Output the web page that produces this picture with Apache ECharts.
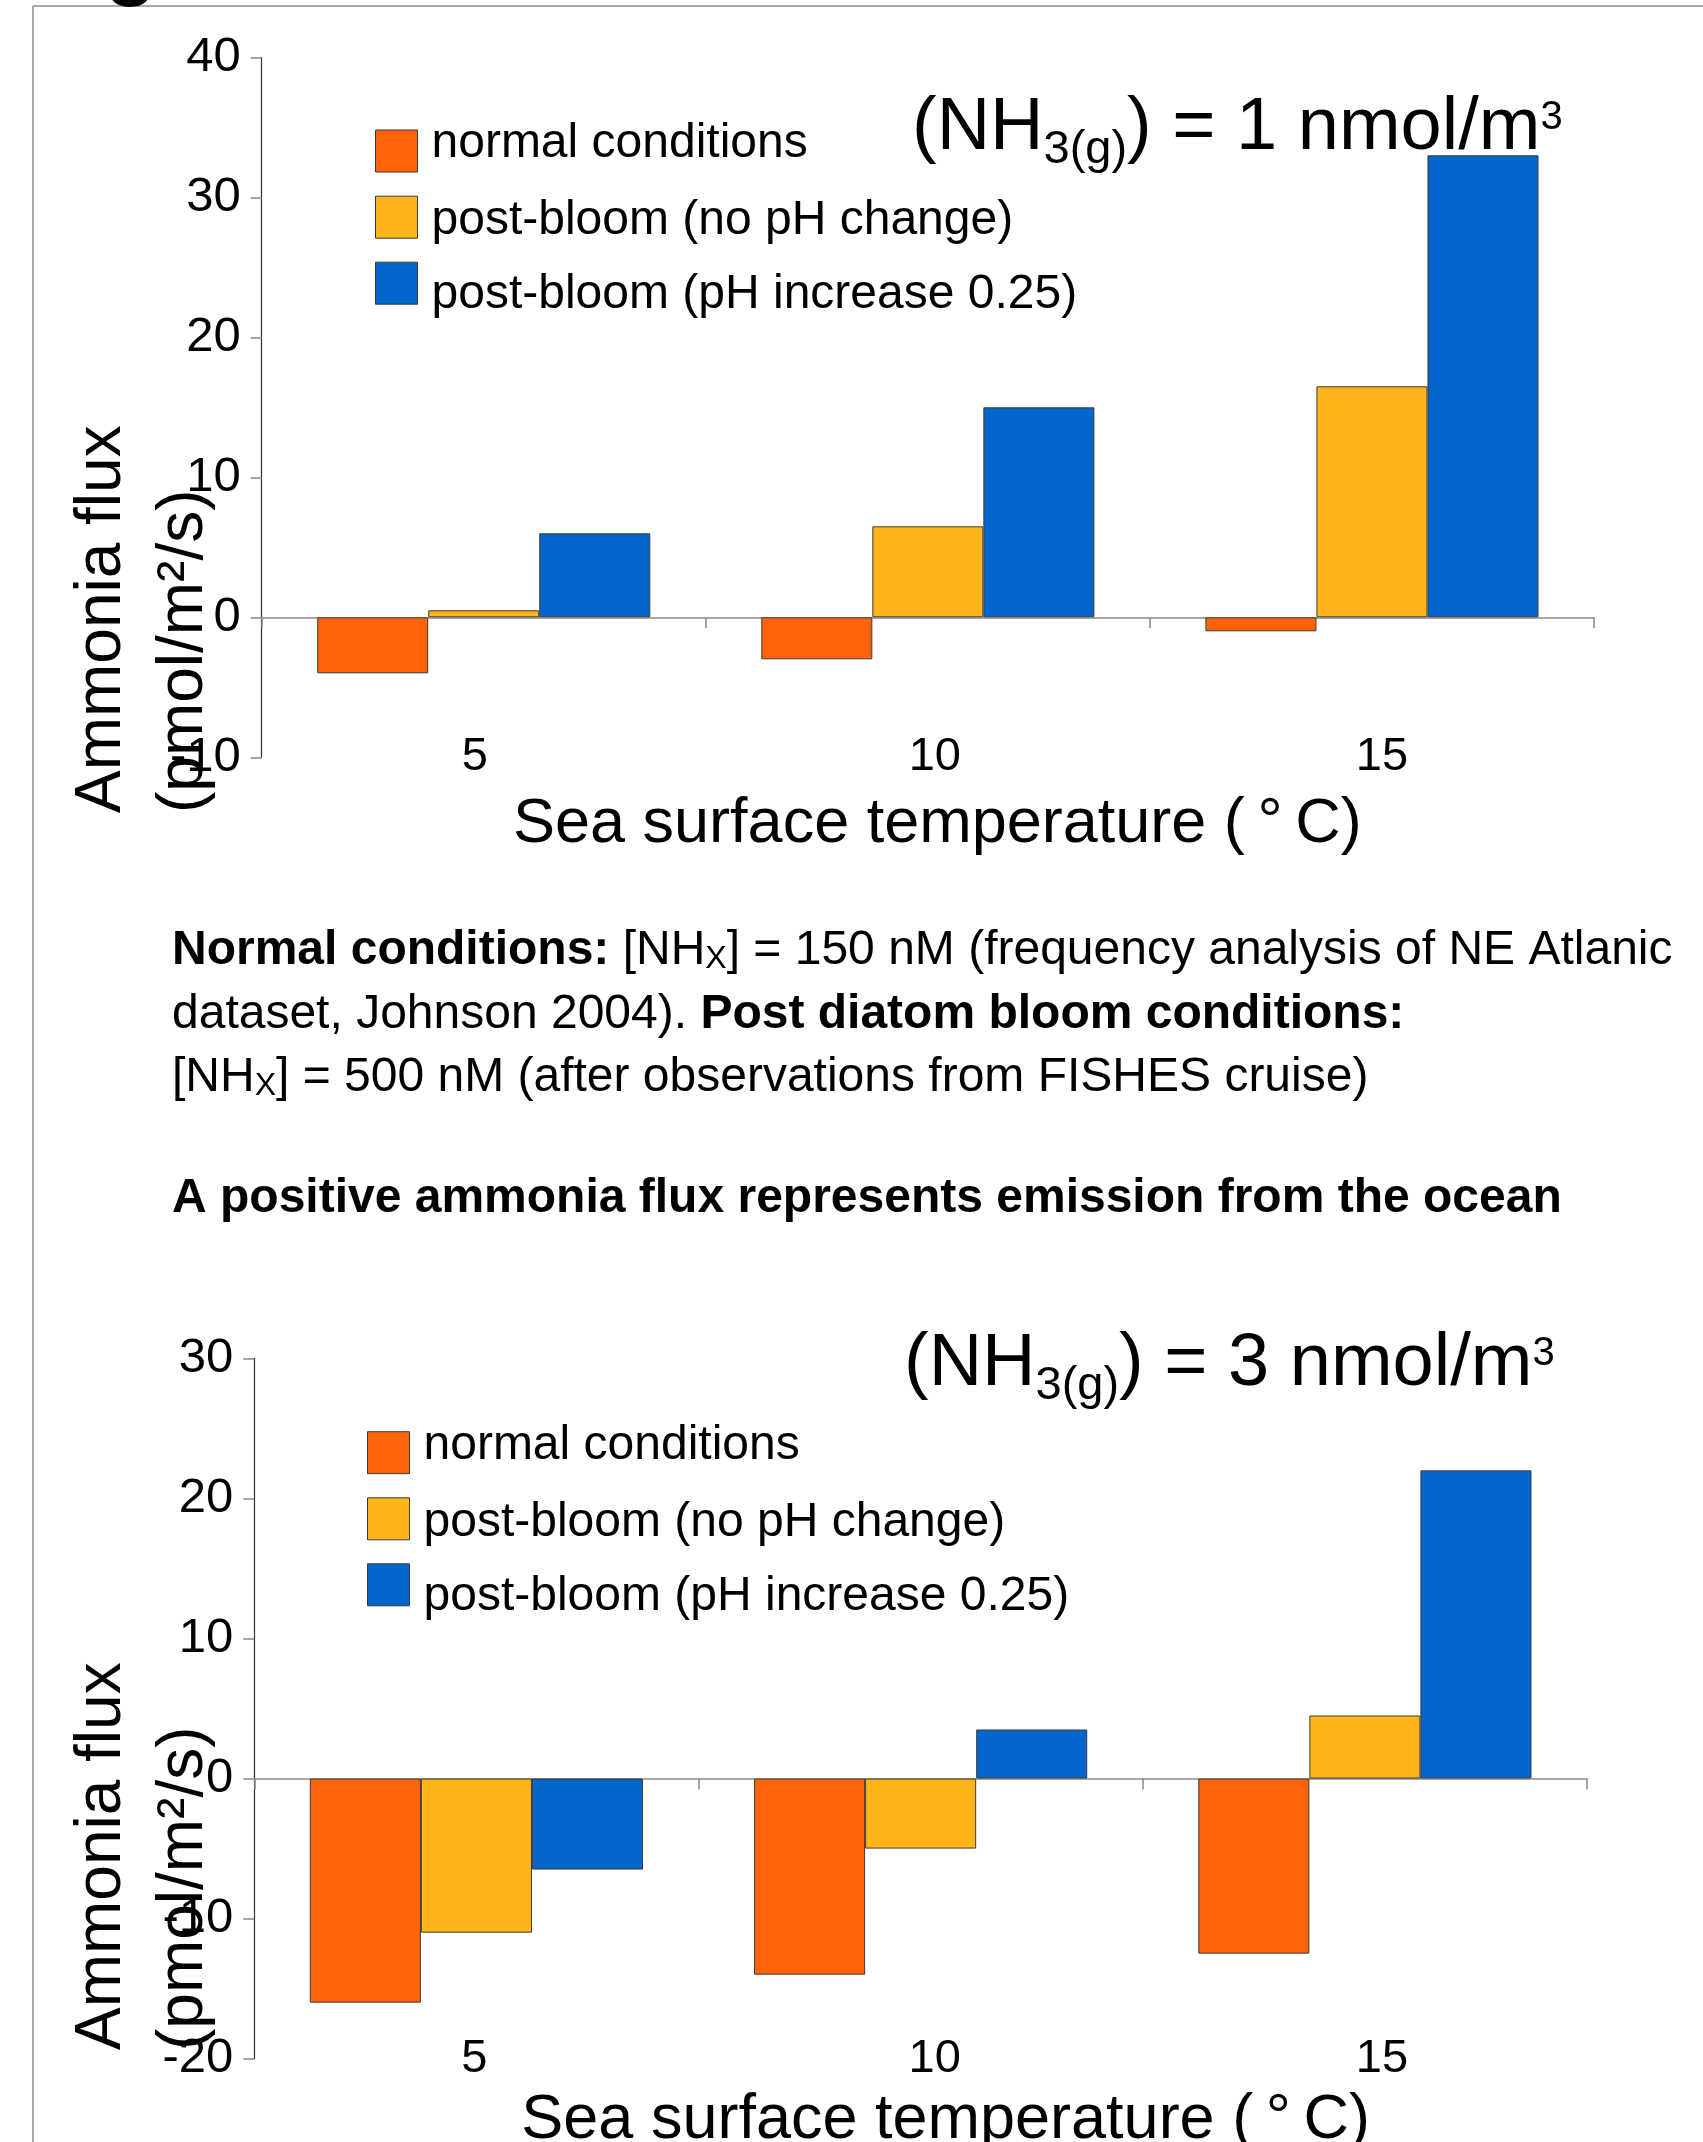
<!DOCTYPE html>
<html><head><meta charset="utf-8">
<script src="https://cdn.jsdelivr.net/npm/echarts@6/dist/echarts.min.js"></script>
<style>html,body{margin:0;padding:0;background:#fff}#c{width:1703px;height:2142px}</style>
</head><body><div id="c"></div>
<script>
// ---- data ----
const categories = ['5', '10', '15'];
const seriesNames = ['normal conditions', 'post-bloom (no pH change)', 'post-bloom (pH increase 0.25)'];
// panel 1: (NH3(g)) = 1 nmol/m3
const topNormal = [-4.0, -3.0, -1.0];
const topNoPH   = [0.5, 6.5, 16.5];
const topPH     = [6.0, 15.0, 33.0];
// panel 2: (NH3(g)) = 3 nmol/m3
const botNormal = [-16.0, -14.0, -12.5];
const botNoPH   = [-11.0, -5.0, 4.5];
const botPH     = [-6.5, 3.5, 22.0];
const topYTicks = [-10, 0, 10, 20, 30, 40];
const botYTicks = [-20, -10, 0, 10, 20, 30];

// ---- styles ----
const FONT = '"Liberation Sans", Arial, Helvetica, sans-serif';
const colors = ['#FF6309', '#FFB41A', '#0266CC'];
const BORDER = '#3a3a3a';
// horizontal nudges (px) of the category labels, as in the original figure
const topLabelShift = [-9, 7, 10];
const botLabelShift = [-2, 14, 17];

function yAxisFor(ticks, gridIndex) {
  return {
    type: 'value', gridIndex: gridIndex,
    min: ticks[0], max: ticks[ticks.length - 1], interval: ticks[1] - ticks[0],
    axisLine: { show: true, lineStyle: { color: '#333', width: 1.2 } },
    axisTick: { show: true, length: 11, lineStyle: { color: '#888', width: 1.5 } },
    axisLabel: { fontSize: 49, color: '#000', fontFamily: FONT, margin: 21 },
    splitLine: { show: false }
  };
}
function zeroXAxis(gridIndex) {
  return {
    type: 'category', gridIndex: gridIndex, data: categories, position: 'bottom',
    axisLine: { show: true, onZero: true, lineStyle: { color: '#8a8a8a', width: 1.5 } },
    axisTick: { show: true, length: 11, interval: 0, lineStyle: { color: '#888', width: 1.5 } },
    axisLabel: { show: false }
  };
}
function labelXAxis(gridIndex, padLeft, gap, shifts) {
  const rich = {};
  shifts.forEach(function (s, i) {
    rich['c' + i] = { fontSize: 47, color: '#000', fontFamily: FONT,
      padding: s >= 0 ? [0, 0, 0, 2 * s] : [0, -2 * s, 0, 0] };
  });
  return {
    type: 'category', gridIndex: gridIndex, data: categories, position: 'bottom',
    axisLine: { show: false, onZero: false },
    axisTick: { show: false },
    axisLabel: { show: true, fontSize: 47, color: '#000', fontFamily: FONT, margin: 0, verticalAlign: 'middle',
      formatter: function (v, i) { return '{c' + i + '|' + v + '}'; }, rich: rich },
    name: 'Sea surface temperature (\u2009°\u2009C)',
    nameLocation: 'middle', nameGap: gap,
    nameTextStyle: { fontSize: 63, color: '#000', fontFamily: FONT, padding: [0, 0, 0, padLeft] }
  };
}
function bars(values, idx, axisIdx) {
  return {
    type: 'bar', name: seriesNames[idx], data: values,
    xAxisIndex: axisIdx, yAxisIndex: axisIdx / 2,
    barGap: '0%', barCategoryGap: '25%',
    itemStyle: { color: colors[idx], borderColor: BORDER, borderWidth: 1 },
    emphasis: { disabled: true }
  };
}
// each legend row is its own component; the text sits slightly off-centre as in the original
const legendTextPad = [[0, 0, 14, 9], [7, 0, 0, 9], [23, 0, 0, 9]];
function legendRow(i, left, top) {
  const rich = {};
  rich['t' + i] = { fontSize: 48, color: '#000', fontFamily: FONT, padding: legendTextPad[i] };
  return {
    orient: 'vertical', left: left, top: top, padding: 0,
    itemWidth: 42, itemHeight: 42, itemGap: 0,
    icon: 'rect',
    itemStyle: { borderColor: BORDER, borderWidth: 1 },
    textStyle: { fontSize: 48, color: '#000', fontFamily: FONT, rich: rich },
    formatter: function (name) { return '{t' + i + '|' + name + '}'; },
    data: [seriesNames[i]]
  };
}
function titleRich(left, top, num) {
  return {
    left: left, top: top, padding: 0,
    text: '{m|(NH}{s|3(g)}{m|) = ' + num + ' nmol/m}{p|3}',
    textStyle: {
      fontWeight: 'normal',
      rich: {
        m: { fontSize: 74, fontWeight: 'normal', verticalAlign: 'top', fontFamily: FONT, color: '#000' },
        s: { fontSize: 47, fontWeight: 'normal', verticalAlign: 'top', padding: [35, 0, 0, 0], fontFamily: FONT, color: '#000' },
        p: { fontSize: 40, fontWeight: 'normal', verticalAlign: 'top', padding: [6, 0, 0, 0], fontFamily: FONT, color: '#000' }
      }
    }
  };
}
const noteRich = {
  r: { fontSize: 48, lineHeight: 50, verticalAlign: 'bottom', fontFamily: FONT, fill: '#000', color: '#000' },
  b: { fontSize: 48, lineHeight: 50, verticalAlign: 'bottom', fontFamily: FONT, fontWeight: 'bold', fill: '#000', color: '#000' },
  s: { fontSize: 32, lineHeight: 24, verticalAlign: 'bottom', fontFamily: FONT, fill: '#000', color: '#000' }
};
function noteLine(y, text) {
  return { type: 'text', x: 172, y: y, silent: true,
    style: { text: text, rich: noteRich, align: 'left', textAlign: 'left', verticalAlign: 'middle', textVerticalAlign: 'middle', fill: '#000' } };
}
function yTitle(x, y) {
  return { type: 'text', x: x, y: y, rotation: Math.PI / 2, silent: true,
    style: { text: 'Ammonia flux\n(pmol/m²/s)', fontSize: 64, fontFamily: FONT, fill: '#000',
      lineHeight: 82, align: 'left', textAlign: 'left', verticalAlign: 'middle', textVerticalAlign: 'middle' } };
}

const chart = echarts.init(document.getElementById('c'), null, { renderer: 'canvas' });
chart.setOption({
  backgroundColor: '#fff',
  animation: false,
  textStyle: { fontFamily: FONT },
  title: [titleRich(912, 92, '1'), titleRich(904, 1328, '3')],
  legend: [
    legendRow(0, 375, 120), legendRow(1, 375, 195.7), legendRow(2, 375, 261.7),
    legendRow(0, 367, 1421.7), legendRow(1, 367, 1497.3), legendRow(2, 367, 1563.3)
  ],
  grid: [
    { left: 261.7, top: 57.3, width: 1332.3, height: 700, outerBoundsMode: 'none', containLabel: false },
    { left: 254.3, top: 1358.3, width: 1332.7, height: 700.4, outerBoundsMode: 'none', containLabel: false }
  ],
  xAxis: [zeroXAxis(0), labelXAxis(0, 19, 36, topLabelShift), zeroXAxis(1), labelXAxis(1, 50, 30, botLabelShift)],
  yAxis: [yAxisFor(topYTicks, 0), yAxisFor(botYTicks, 1)],
  series: [
    bars(topNormal, 0, 0), bars(topNoPH, 1, 0), bars(topPH, 2, 0),
    bars(botNormal, 0, 2), bars(botNoPH, 1, 2), bars(botPH, 2, 2)
  ],
  graphic: [
    { type: 'line', silent: true, shape: { x1: 33, y1: 6, x2: 1703, y2: 6 }, style: { stroke: '#8c8c8c', lineWidth: 1.5 } },
    { type: 'line', silent: true, shape: { x1: 33, y1: 6, x2: 33, y2: 2142 }, style: { stroke: '#8c8c8c', lineWidth: 1.5 } },
    { type: 'text', x: 131, y: -34, silent: true,
      style: { text: 'g', fontSize: 85, fontWeight: 'bold', fontFamily: FONT, fill: '#000', align: 'center', textAlign: 'center', verticalAlign: 'middle', textVerticalAlign: 'middle' } },
    yTitle(143, 813),
    yTitle(143, 2050),
    noteLine(950, '{b|Normal conditions:}{r| [NH}{s|X}{r|] = 150 nM (frequency analysis of NE Atlanic}'),
    noteLine(1014, '{r|dataset, Johnson 2004). }{b|Post diatom bloom conditions:}'),
    noteLine(1077, '{r|[NH}{s|X}{r|] = 500 nM (after observations from FISHES cruise)}'),
    noteLine(1198, '{b|A positive ammonia flux represents emission from the ocean}')
  ]
});
</script></body></html>
